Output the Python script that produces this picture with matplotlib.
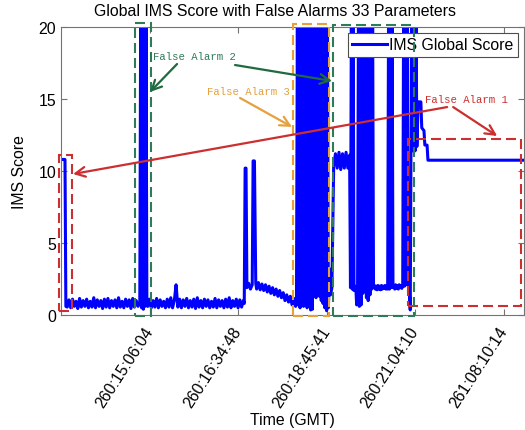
import numpy as np
import matplotlib
matplotlib.use("Agg")
import matplotlib.pyplot as plt
from matplotlib.patches import Rectangle

plt.rcParams["font.family"] = ["Liberation Sans", "DejaVu Sans"]

# ---- IMS global score (x = sample index) ----
lead_idx = [0, 45, 55]
lead_val = [10.8, 10.8, 0.6]

# quiet stretch before false alarm 2 (every 20 samples from 70)
quiet_a_val = [0.55, 1.05, 0.5, 1.1, 0.6, 0.95, 0.45, 1.15, 0.55, 1.0,
               0.6, 1.1, 0.5, 0.95, 0.55, 1.2, 0.5, 1.05, 0.6, 1.0,
               0.45, 1.1, 0.55, 1.15, 0.5, 1.0, 0.6, 1.05, 0.5, 1.2,
               0.55, 0.95, 0.5, 1.1, 0.6, 1.05, 0.45, 1.15, 0.55, 1.0, 0.6]

# false alarm 2 burst (every 10 samples from 890)
alarm2_val = [0.8, 21, 0.5, 21, 0.4, 21, 0.6, 21, 0.7]

# quiet stretch after false alarm 2 (every 20 samples from 980)
quiet_b_val = [0.6, 1.1, 0.5, 1.0, 0.55, 1.15, 0.5, 1.05, 0.6, 0.95,
               0.5, 1.1, 0.55, 1.2, 0.5, 1.0, 2.1, 0.55, 1.1, 0.5,
               1.05, 0.6, 1.15, 0.5, 1.0, 0.55, 1.1, 0.45, 1.2, 0.55,
               1.0, 0.5, 1.1, 0.6, 1.05, 0.5, 0.95, 0.55, 1.15, 0.5,
               1.05, 0.6, 1.0, 0.5, 1.1, 0.55, 1.2, 0.5, 1.0, 0.6,
               1.1, 0.5, 1.05, 0.55, 1.0]

spikes_idx = [2070, 2080, 2090, 2100, 2120, 2140, 2160, 2170, 2185, 2200]
spikes_val = [0.8, 10.2, 10.2, 1.9, 2.2, 1.8, 2.1, 10.7, 10.7, 2.2]

# slow decline (every 20 samples from 2210)
decline_val = [1.8, 2.25, 1.75, 2.15, 1.7, 2.1, 1.6, 2.0, 1.5, 1.9, 1.4, 1.8,
               1.3, 1.7, 1.2, 1.55, 1.0, 1.4, 0.9, 1.3, 0.7, 1.15, 0.6]

# false alarm 3 burst (every 10 samples from 2660)
alarm3_val = [0.8, 21, 0.7, 21, 0.5, 21, 0.8, 21, 0.6, 21,
              0.9, 21, 0.5, 21, 0.7, 21, 0.35, 21, 0.4, 21,
              1.6, 21, 1.2, 21, 1.8, 21, 1.3, 21, 1.0, 21,
              0.8, 21, 0.5, 21, 0.3, 21, 0.5]

step_idx = [3035, 3045, 3060, 3080]
step_val = [3.2, 1.4, 1.9, 10.3]

# plateau around 11 (every 20 samples from 3100)
plateau_val = [11.2, 10.2, 11.3, 10.1, 11.2, 10.2, 11.3, 10.2, 11.1]

# second green region (every 10 samples from 3270)
burst_val = [1.9, 21, 1.8, 21, 1.7, 2.0, 1.9, 0.7, 1.8, 21,
             0.6, 21, 0.7, 21, 1.5, 21, 1.8, 21, 1.2, 21,
             1.0, 21, 1.4, 21, 1.8, 21, 1.9, 2.05, 1.8, 2.0,
             1.75, 2.05, 1.8, 2.0, 1.75, 2.05, 1.8, 2.0, 1.85, 2.05,
             1.8, 2.0, 1.8, 21, 1.8, 21, 1.9, 21, 1.9, 2.05,
             1.8, 2.1, 1.85, 2.05, 1.8, 2.1, 1.9, 2.05, 1.85, 2.1,
             21, 2.0, 21, 2.1, 21, 2.2, 2.2]

tail_idx = [3945, 3960, 3975, 3990, 4000, 4010, 4020, 4035, 4065, 4075,
            4100, 4110, 4135, 4145, 5230]
tail_val = [0.35, 21, 11.4, 21, 11.4, 21, 11.7, 14.8, 14.8, 13.0,
            12.8, 11.8, 11.8, 10.75, 10.75]

tick_idx = [1000, 2000, 3000, 4000, 5000]
tick_labels = ["260:15:06:04", "260:16:34:48", "260:18:45:41",
               "260:21:04:10", "261:08:10:14"]

# false alarm boxes: (x0, x1, y0, y1)
box_alarm1_left = (-23, 124, 0.3, 11.1)
box_alarm1_right = (3921, 5198, 0.6, 12.25)
box_alarm2_left = (836, 1017, -0.05, 20.3)
box_alarm2_right = (3074, 3989, -0.05, 20.15)
box_alarm3 = (2622, 3028, -0.05, 20.2)


def regular(start, step, vals):
    return start + step * np.arange(len(vals))


sample_idx = np.concatenate([
    lead_idx,
    regular(70, 20, quiet_a_val),
    regular(890, 10, alarm2_val),
    regular(980, 20, quiet_b_val),
    spikes_idx,
    regular(2210, 20, decline_val),
    regular(2660, 10, alarm3_val),
    step_idx,
    regular(3100, 20, plateau_val),
    regular(3270, 10, burst_val),
    tail_idx,
])
ims_score = np.concatenate([
    lead_val, quiet_a_val, alarm2_val, quiet_b_val, spikes_val,
    decline_val, alarm3_val, step_val, plateau_val, burst_val, tail_val,
])

RED = "#cc2f2f"
GREEN = "#2f7a58"
GREEN_ARROW = "#1f6a3f"
ORANGE = "#e6a03c"

fig = plt.figure(figsize=(5.25, 4.31), dpi=100)
ax = fig.add_axes([61 / 525, 115 / 431, 463 / 525, 288 / 431])

ax.plot(sample_idx, ims_score, color="#0000ff", lw=2.2,
        label="IMS Global Score", zorder=2)

ax.set_xlim(0, 5230)
ax.set_ylim(0, 20)
ax.set_yticks([0, 5, 10, 15, 20])
ax.set_xticks(tick_idx)
ax.set_xticklabels(tick_labels)
ax.tick_params(direction="in", top=True, right=True, length=4,
               color="0.45", labelsize=11.4, labelcolor="black")
ax.tick_params(axis="x", pad=9)
for lab in ax.get_xticklabels():
    lab.set_rotation(57)
    lab.set_ha("right")
    lab.set_va("center")
    lab.set_rotation_mode("anchor")
for sp in ax.spines.values():
    sp.set_color("0.45")
    sp.set_linewidth(0.8)

ax.set_title("Global IMS Score with False Alarms 33 Parameters",
             fontsize=11.4, x=0.463, pad=8.5)
ax.set_xlabel("Time (GMT)", fontsize=11.4, labelpad=2)
ax.set_ylabel("IMS Score", fontsize=11.4, labelpad=8)

leg = ax.legend(loc="upper right", fontsize=11.4, fancybox=False,
                edgecolor="0.3", framealpha=1, borderpad=0.3,
                handlelength=2.2, handletextpad=0.15, borderaxespad=0.35)
leg.get_frame().set_linewidth(0.8)
leg.set_zorder(5)

# dashed boxes
for (x0, x1, y0, y1), c in [(box_alarm1_left, RED), (box_alarm1_right, RED),
                            (box_alarm2_left, GREEN), (box_alarm2_right, GREEN),
                            (box_alarm3, ORANGE)]:
    ax.add_patch(Rectangle((x0, y0), x1 - x0, y1 - y0, fill=False,
                           edgecolor=c, lw=1.5, linestyle=(0, (4.8, 2.4)),
                           clip_on=False, zorder=6))

# labels and arrows
mono = dict(family="Liberation Mono", fontsize=7.7, va="center")
ax.text(1040, 18.0, "False Alarm 2", color=GREEN, zorder=7, **mono)
ax.text(1650, 15.56, "False Alarm 3", color=ORANGE, zorder=7, **mono)
ax.text(4113, 15.0, "False Alarm 1", color=RED, zorder=7, **mono)

arrows = [
    ((4362, 14.44), (136, 9.79), RED),
    ((4430, 14.44), (4927, 12.43), RED),
    ((1311, 17.43), (1006, 15.49), GREEN_ARROW),
    ((1966, 17.36), (3062, 16.25), GREEN_ARROW),
    ((2023, 15.07), (2610, 13.06), ORANGE),
]
for tail, head, c in arrows:
    ax.annotate("", xy=head, xytext=tail, annotation_clip=False,
                arrowprops=dict(arrowstyle="->,head_length=0.7,head_width=0.35",
                                color=c, lw=1.6, shrinkA=0, shrinkB=0),
                zorder=7)

fig.savefig("out.png", dpi=100)
